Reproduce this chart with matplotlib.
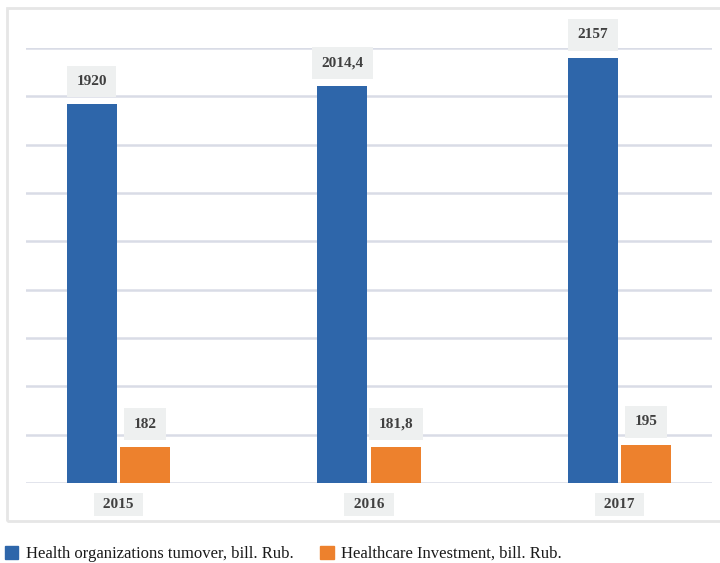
import matplotlib.pyplot as plt
from matplotlib.patches import Rectangle, Patch
import numpy as np

years = ["2015", "2016", "2017"]
turnover = [1920, 2014.4, 2157]
investment = [182, 181.8, 195]
turnover_labels = ["1920", "2014,4", "2157"]
investment_labels = ["182", "181,8", "195"]

blue = "#2e66aa"
orange = "#ed812d"
label_bg = "#eef0f0"
text_col = "#404040"

plt.rcParams['font.family'] = ['Liberation Serif', 'DejaVu Serif']

W, H = 720, 563
fig = plt.figure(figsize=(7.2, 5.63), dpi=100)
ax = fig.add_axes([26 / W, 1 - 483 / H, (712 - 26) / W, (483 - 48) / H])

# outer frame
fig.patches.append(Rectangle((7 / W, 1 - 521 / H), 720 / W, 513 / H, transform=fig.transFigure,
                             fill=False, edgecolor="#e6e6e6", linewidth=2, zorder=0))

x = np.arange(len(years))
w = 0.2
off = 0.107
b1 = ax.bar(x - off, turnover, w, color=blue, zorder=3)
b2 = ax.bar(x + off, investment, w, color=orange, zorder=3)

top = 2206
ax.set_ylim(0, top)
ax.set_yticks(np.linspace(0, top, 10))
ax.set_xlim(-0.369, 2.369)
ax.grid(axis="y", color="#d9dce6", linewidth=1.8, zorder=0)
ax.tick_params(left=False, bottom=False, labelleft=False, labelbottom=False)
for s in ax.spines.values():
    s.set_visible(False)

for bars, labels in ((b1, turnover_labels), (b2, investment_labels)):
    for rect, lab in zip(bars, labels):
        ax.annotate(lab, (rect.get_x() + rect.get_width() / 2, rect.get_height()),
                    xytext=(0, 16.5), textcoords="offset points", ha="center", va="center",
                    fontsize=11, fontweight="bold", color=text_col, zorder=4,
                    bbox=dict(boxstyle="square,pad=0.62", fc=label_bg, ec="none"))

for i, yr in enumerate(years):
    ax.annotate(" " + yr + " ", (i, 0), xycoords=("data", "axes fraction"), xytext=(0, -15.5),
                textcoords="offset points", ha="center", va="center",
                fontsize=11, fontweight="bold", color=text_col,
                bbox=dict(boxstyle="square,pad=0.35", fc=label_bg, ec="none"))

handles = [Patch(color=blue, label="Health organizations tumover, bill. Rub."),
           Patch(color=orange, label="Healthcare Investment, bill. Rub.")]
fig.legend(handles=handles, loc="center left", bbox_to_anchor=(0, 1 - 554 / H), ncol=2,
           frameon=False, fontsize=12, handlelength=0.8, handleheight=0.8,
           handletextpad=0.45, columnspacing=1.6, borderaxespad=0, borderpad=0.3,
           labelcolor="#1a1a1a")

fig.savefig("out.png", dpi=100)
